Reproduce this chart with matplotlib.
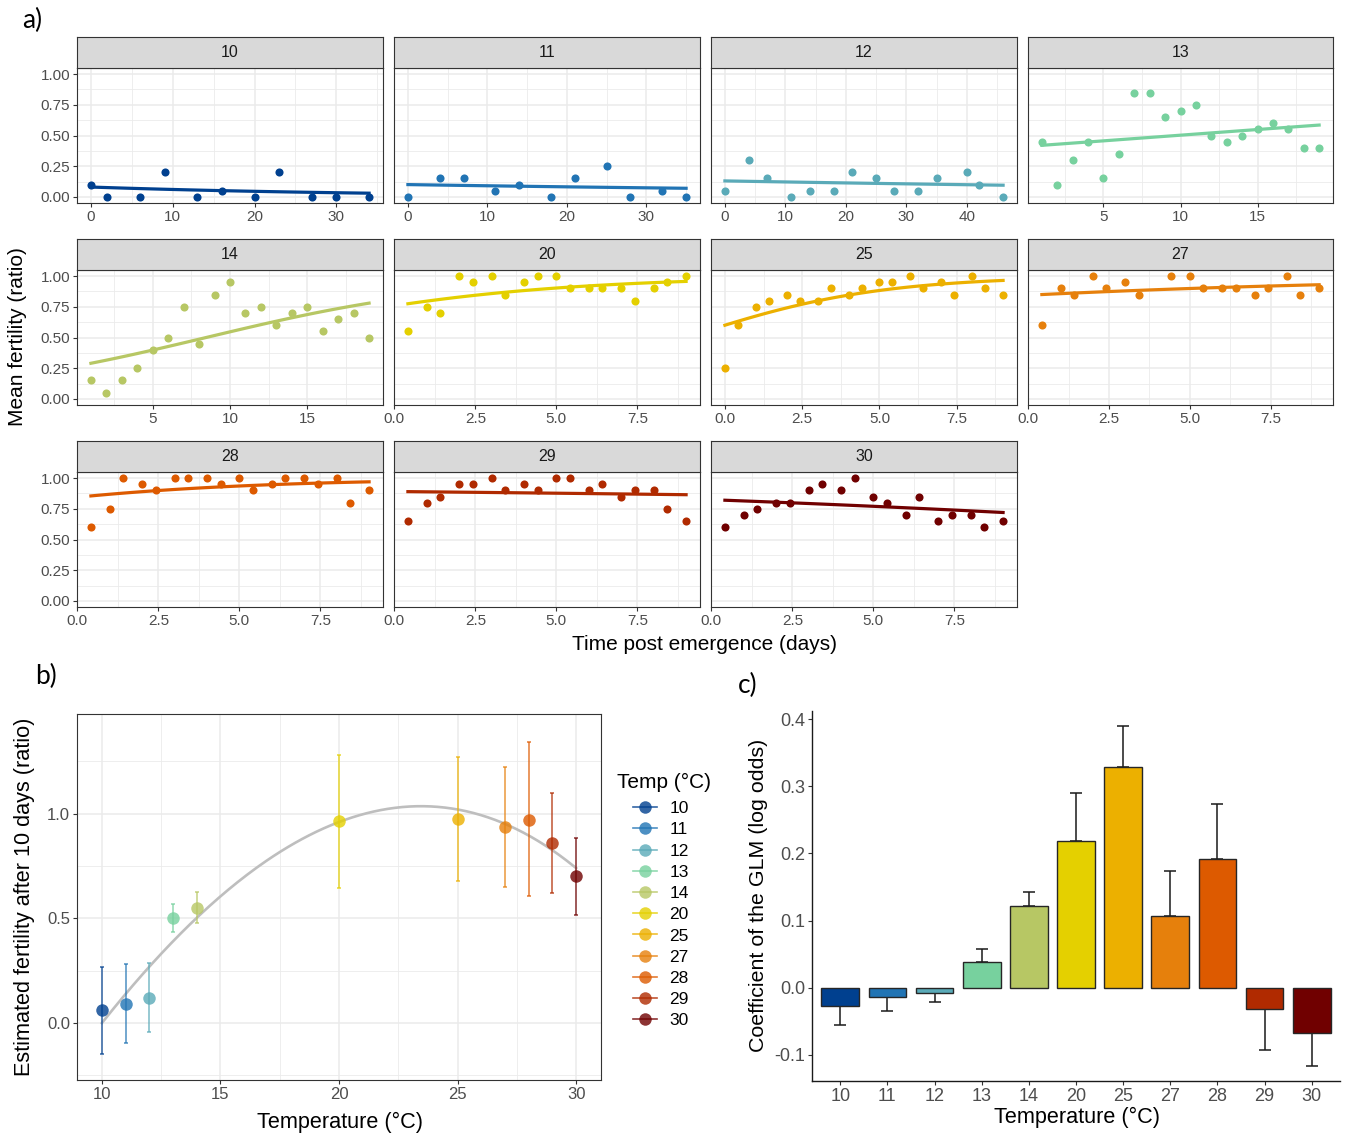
import numpy as np
import matplotlib
matplotlib.use('Agg')
import matplotlib.pyplot as plt
from matplotlib.lines import Line2D
from matplotlib.ticker import MultipleLocator, FixedLocator, FormatStrFormatter

plt.rcParams['font.family'] = ['Liberation Sans', 'DejaVu Sans']

W, H = 1346, 1134

temps = [10, 11, 12, 13, 14, 20, 25, 27, 28, 29, 30]
colours = ['#00408f', '#2174b4', '#5aaab8', '#77d19e', '#b7c764', '#e4d000',
           '#ecb000', '#e6800c', '#dd5a00', '#b02a00', '#700000']

# ---- a) mean fertility over time, one facet per temperature
days_10 = [0, 2, 6, 9, 13, 16, 20, 23, 27, 30, 34]
fert_10 = [0.10, 0, 0, 0.20, 0, 0.05, 0, 0.20, 0, 0, 0]
days_11 = [0, 4, 7, 11, 14, 18, 21, 25, 28, 32, 35]
fert_11 = [0, 0.15, 0.15, 0.05, 0.10, 0, 0.15, 0.25, 0, 0.05, 0]
days_12 = [0, 4, 7, 11, 14, 18, 21, 25, 28, 32, 35, 40, 42, 46]
fert_12 = [0.05, 0.30, 0.15, 0, 0.05, 0.05, 0.20, 0.15, 0.05, 0.05, 0.15, 0.20, 0.10, 0]
days_13 = list(range(1, 20))
fert_13 = [0.45, 0.10, 0.30, 0.45, 0.15, 0.35, 0.85, 0.85, 0.65, 0.70,
           0.75, 0.50, 0.45, 0.50, 0.55, 0.60, 0.55, 0.40, 0.40]
days_14 = list(range(1, 20))
fert_14 = [0.15, 0.05, 0.15, 0.25, 0.40, 0.50, 0.75, 0.45, 0.85, 0.95,
           0.70, 0.75, 0.60, 0.70, 0.75, 0.55, 0.65, 0.70, 0.50]
days_20 = [0.42, 1, 1.42, 2, 2.42, 3, 3.42, 4, 4.42, 5, 5.42, 6, 6.42, 7, 7.42, 8, 8.42, 9]
fert_20 = [0.55, 0.75, 0.70, 1.0, 0.95, 1.0, 0.85, 0.95, 1.0, 1.0,
           0.90, 0.90, 0.90, 0.90, 0.80, 0.90, 0.95, 1.0]
days_25 = [0, 0.42, 1, 1.42, 2, 2.42, 3, 3.42, 4, 4.42, 5, 5.42, 6, 6.42, 7, 7.42, 8, 8.42, 9]
fert_25 = [0.25, 0.60, 0.75, 0.80, 0.85, 0.80, 0.80, 0.90, 0.85, 0.90,
           0.95, 0.95, 1.0, 0.90, 0.95, 0.85, 1.0, 0.90, 0.85]
days_27 = [0.42, 1, 1.42, 2, 2.42, 3, 3.42, 4.42, 5, 5.42, 6, 6.42, 7, 7.42, 8, 8.42, 9]
fert_27 = [0.60, 0.90, 0.85, 1.0, 0.90, 0.95, 0.85, 1.0, 1.0, 0.90,
           0.90, 0.90, 0.85, 0.90, 1.0, 0.85, 0.90]
days_28 = [0.42, 1, 1.42, 2, 2.42, 3, 3.42, 4, 4.42, 5, 5.42, 6, 6.42, 7, 7.42, 8, 8.42, 9]
fert_28 = [0.60, 0.75, 1.0, 0.95, 0.90, 1.0, 1.0, 1.0, 0.95, 1.0,
           0.90, 0.95, 1.0, 1.0, 0.95, 1.0, 0.80, 0.90]
days_29 = [0.42, 1, 1.42, 2, 2.42, 3, 3.42, 4, 4.42, 5, 5.42, 6, 6.42, 7, 7.42, 8, 8.42, 9]
fert_29 = [0.65, 0.80, 0.85, 0.95, 0.95, 1.0, 0.90, 0.95, 0.90, 1.0,
           1.0, 0.90, 0.95, 0.85, 0.90, 0.90, 0.75, 0.65]
days_30 = [0.42, 1, 1.42, 2, 2.42, 3, 3.42, 4, 4.42, 5, 5.42, 6, 6.42, 7, 7.42, 8, 8.42, 9]
fert_30 = [0.60, 0.70, 0.75, 0.80, 0.80, 0.90, 0.95, 0.90, 1.0, 0.85,
           0.80, 0.70, 0.85, 0.65, 0.70, 0.70, 0.60, 0.65]

# GLM (binomial) fit, value at first and last day
fit_start = [0.08, 0.10, 0.13, 0.42, 0.29, 0.775, 0.60, 0.85, 0.855, 0.89, 0.82]
fit_end = [0.03, 0.07, 0.095, 0.585, 0.78, 0.957, 0.965, 0.93, 0.97, 0.865, 0.72]

all_days = [days_10, days_11, days_12, days_13, days_14, days_20, days_25,
            days_27, days_28, days_29, days_30]
all_fert = [fert_10, fert_11, fert_12, fert_13, fert_14, fert_20, fert_25,
            fert_27, fert_28, fert_29, fert_30]

# ---- b) estimated fertility after 10 days
est_mean = [0.06, 0.093, 0.118, 0.50, 0.55, 0.963, 0.973, 0.938, 0.971, 0.858, 0.70]
est_low = [-0.15, -0.094, -0.045, 0.433, 0.48, 0.647, 0.677, 0.649, 0.605, 0.621, 0.518]
est_high = [0.27, 0.28, 0.286, 0.57, 0.625, 1.28, 1.273, 1.225, 1.34, 1.097, 0.885]
# cubic fitted over temperature, centred at 20 degrees
curve_coef = [-0.00006, -0.0059, 0.043, 0.96]

# ---- c) GLM coefficients
coef = [-0.028, -0.0134, -0.0085, 0.038, 0.121, 0.219, 0.328, 0.106, 0.1915, -0.032, -0.068]
coef_se = [0.028, 0.0216, 0.0135, 0.019, 0.021, 0.071, 0.061, 0.067, 0.0815, 0.0615, 0.049]

GRID = '#ebebeb'
DARK = '#333333'
TICKLAB = '#4d4d4d'

fig = plt.figure(figsize=(W / 100, H / 100), dpi=100)


def px_axes(x0, y0, x1, y1):
    return fig.add_axes([x0 / W, 1 - y1 / H, (x1 - x0) / W, (y1 - y0) / H])


def style_bw(ax, lab_size):
    for s in ax.spines.values():
        s.set_color(DARK)
        s.set_linewidth(0.8)
    ax.tick_params(which='major', length=3, width=0.8, color=DARK,
                   labelcolor=TICKLAB, labelsize=lab_size, pad=2)
    ax.tick_params(which='minor', length=0)
    ax.grid(which='major', color=GRID, lw=1.1, zorder=0)
    ax.grid(which='minor', color=GRID, lw=0.6, zorder=0)
    ax.set_axisbelow(True)


col_x = [(77, 383), (394, 700), (711, 1017), (1028, 1333)]
row_y = [(37, 68, 203), (239, 270, 405), (441, 472, 607)]

for i, t in enumerate(temps):
    r, c = divmod(i, 4)
    x0, x1 = col_x[c]
    s0, p0, p1 = row_y[r]
    days = np.array(all_days[i])
    fert = np.array(all_fert[i])

    ax = px_axes(x0, p0, x1, p1)
    style_bw(ax, 11)
    lo, hi = days.min(), days.max()
    pad = 0.05 * (hi - lo)
    ax.set_xlim(lo - pad, hi + pad)
    ax.set_ylim(-0.05, 1.05)

    # logistic curve between the fitted end values
    xs = np.linspace(lo, hi, 100)
    l0 = np.log(fit_start[i] / (1 - fit_start[i]))
    l1 = np.log(fit_end[i] / (1 - fit_end[i]))
    lg = l0 + (l1 - l0) * (xs - lo) / (hi - lo)
    ax.plot(xs, 1 / (1 + np.exp(-lg)), color=colours[i], lw=2.3, zorder=3)
    ax.scatter(days, fert, s=34, color=colours[i], zorder=4, linewidths=0)

    if hi > 30:
        ax.xaxis.set_major_locator(MultipleLocator(10))
        ax.xaxis.set_minor_locator(MultipleLocator(5))
    elif hi > 15:
        ax.xaxis.set_major_locator(MultipleLocator(5))
        ax.xaxis.set_minor_locator(MultipleLocator(2.5))
    else:
        ax.xaxis.set_major_locator(MultipleLocator(2.5))
        ax.xaxis.set_minor_locator(MultipleLocator(1.25))
        ax.xaxis.set_major_formatter(FormatStrFormatter('%.1f'))
    ax.yaxis.set_major_locator(MultipleLocator(0.25))
    ax.yaxis.set_minor_locator(MultipleLocator(0.125))
    ax.yaxis.set_major_formatter(FormatStrFormatter('%.2f'))
    if c != 0:
        ax.tick_params(axis='y', which='both', left=False, labelleft=False)

    sax = px_axes(x0, s0, x1, p0)
    sax.set_facecolor('#d9d9d9')
    sax.set_xticks([])
    sax.set_yticks([])
    for s in sax.spines.values():
        s.set_color(DARK)
        s.set_linewidth(0.8)
    sax.text(0.5, 0.5, str(t), ha='center', va='center', fontsize=11.5,
             color='#1a1a1a', transform=sax.transAxes)

fig.text(18 / W, 1 - 337 / H, 'Mean fertility (ratio)', rotation=90,
         ha='center', va='center', fontsize=15)
fig.text(705 / W, 1 - 644 / H, 'Time post emergence (days)', ha='center',
         va='center', fontsize=15)

# ---- panel b
axb = px_axes(77, 714, 601, 1080)
style_bw(axb, 12)
axb.set_xlim(8.95, 31.05)
axb.set_ylim(-0.272, 1.476)
axb.xaxis.set_major_locator(FixedLocator([10, 15, 20, 25, 30]))
axb.xaxis.set_minor_locator(FixedLocator([12.5, 17.5, 22.5, 27.5]))
axb.yaxis.set_major_locator(FixedLocator([0, 0.5, 1.0]))
axb.yaxis.set_minor_locator(FixedLocator([-0.25, 0.25, 0.75, 1.25]))
axb.yaxis.set_major_formatter(FormatStrFormatter('%.1f'))

tc = np.linspace(10, 30, 200)
axb.plot(tc, np.polyval(curve_coef, tc - 20), color='#bebebe', lw=1.9, zorder=2)

handles = []
for i, t in enumerate(temps):
    m = est_mean[i]
    axb.errorbar([t], [m], yerr=[[m - est_low[i]], [est_high[i] - m]], fmt='none',
                 ecolor=colours[i], elinewidth=1.1, capsize=1.6, capthick=1.1,
                 alpha=0.8, zorder=3)
    axb.plot([t], [m], 'o', ms=9, color=colours[i], alpha=0.8, mew=0, zorder=4)
    handles.append(Line2D([], [], color=colours[i], marker='o', ms=9, mew=0,
                          lw=1.2, alpha=0.8, label=str(t)))

fig.text(617 / W, 1 - 782 / H, 'Temp (°C)', ha='left', va='center', fontsize=15)
fig.legend(handles=handles, loc='upper left', bbox_to_anchor=(633 / W, 1 - 801 / H),
           frameon=False, fontsize=12.5, handlelength=1.4, handletextpad=0.7,
           labelspacing=0.35, borderaxespad=0, borderpad=0)

fig.text(25 / W, 1 - 897 / H, 'Estimated fertility after 10 days (ratio)', rotation=90,
         ha='center', va='center', fontsize=15.6)
fig.text(340 / W, 1 - 1122 / H, 'Temperature (°C)', ha='center', va='center', fontsize=15.6)

# ---- panel c
axc = px_axes(812, 711, 1340, 1081)
pos = np.arange(len(temps))
for i in pos:
    if coef[i] >= 0:
        err = [[0], [coef_se[i]]]
    else:
        err = [[coef_se[i]], [0]]
    axc.errorbar([i], [coef[i]], yerr=err, fmt='none', ecolor='#1a1a1a',
                 elinewidth=1.1, capsize=4.5, capthick=1.1, zorder=2)
axc.bar(pos, coef, width=0.8, color=colours, edgecolor='#262626', lw=1.0, zorder=3)
axc.set_xlim(-0.6, 10.6)
axc.set_ylim(-0.139, 0.412)
axc.set_xticks(pos)
axc.set_xticklabels([str(t) for t in temps])
axc.yaxis.set_major_locator(FixedLocator([-0.1, 0, 0.1, 0.2, 0.3, 0.4]))
axc.yaxis.set_major_formatter(FormatStrFormatter('%.1f'))
for side in ['top', 'right']:
    axc.spines[side].set_visible(False)
for side in ['left', 'bottom']:
    axc.spines[side].set_color('#1a1a1a')
    axc.spines[side].set_linewidth(1.0)
axc.tick_params(length=3, width=0.8, color=DARK, labelcolor=TICKLAB,
                labelsize=13, pad=2)

fig.text(758 / W, 1 - 895 / H, 'Coefficient of the GLM (log odds)', rotation=90,
         ha='center', va='center', fontsize=15.4)
fig.text(1077 / W, 1 - 1117 / H, 'Temperature (°C)', ha='center', va='center', fontsize=15.6)

# panel letters
fig.text(22 / W, 1 - 20 / H, 'a)', ha='left', va='center', fontsize=19, family='Lato')
fig.text(35 / W, 1 - 676 / H, 'b)', ha='left', va='center', fontsize=19, family='Lato')
fig.text(738 / W, 1 - 685 / H, 'c)', ha='left', va='center', fontsize=19, family='Lato')

fig.savefig('out.png', dpi=100)
plt.close()
